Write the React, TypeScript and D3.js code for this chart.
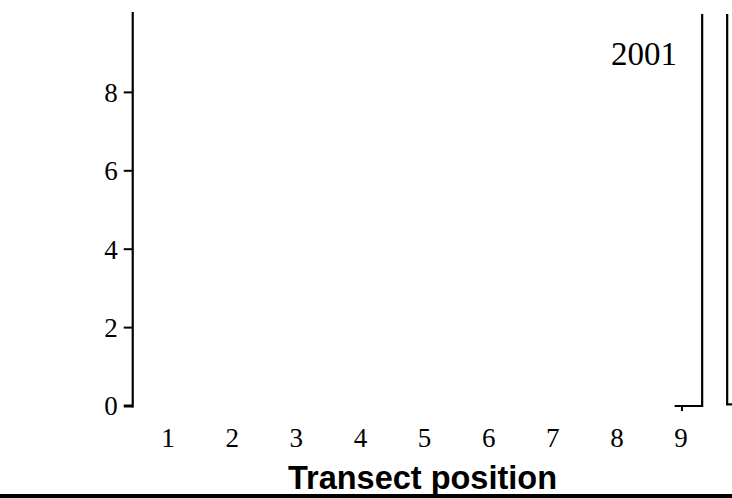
import React from "react";
import * as d3 from "d3";

const yTicks = [0, 2, 4, 6, 8];
const xTicks = [1, 2, 3, 4, 5, 6, 7, 8, 9];
const yearLabel = "2001";
const xTitle = "Transect position";
// step outline of the current panel (transect position, value)
const panelX = [8.9, 9.33, 9.33];
const panelY = [0, 0, 10];
// start of the adjacent panel
const nextX = [9.72, 9.72, 9.9];
const nextY = [10, 0.04, 0.04];
const markedTick = [9];

const W = 732;
const H = 498;

export default function App() {
  const x = d3.scaleLinear().domain([1, 9]).range([168, 681]);
  const y = d3.scaleLinear().domain([0, 10]).range([406, 14]);
  const axisX = x(0.45);
  const mk = (xs: number[], ys: number[]) =>
    d3
      .line<number>()
      .x((d) => x(d))
      .y((_, i) => y(ys[i]))(xs) as string;
  const serif = "'Liberation Serif', 'Times New Roman', serif";
  return (
    <svg
      width={W}
      height={H}
      style={{ position: "absolute", left: 0, top: 0, background: "#fff" }}
    >
      <rect x={0} y={0} width={W} height={H} fill="#fff" />
      <line x1={axisX} x2={axisX} y1={y(10.05)} y2={y(0) + 1.5} stroke="#000" strokeWidth={2.2} />
      {yTicks.map((t) => (
        <g key={t}>
          <line x1={axisX - 9} x2={axisX} y1={y(t)} y2={y(t)} stroke="#000" strokeWidth={t === 0 ? 3 : 2} />
          <text x={axisX - 15} y={y(t)} dy="0.35em" textAnchor="end" fontFamily={serif} fontSize={27}>
            {t}
          </text>
        </g>
      ))}
      {xTicks.map((t) => (
        <text key={t} x={x(t)} y={447} textAnchor="middle" fontFamily={serif} fontSize={27}>
          {t}
        </text>
      ))}
      {markedTick.map((t) => (
        <line key={t} x1={x(t) + 1} x2={x(t) + 1} y1={y(0)} y2={y(0) + 5} stroke="#000" strokeWidth={2} />
      ))}
      <path d={mk(panelX, panelY)} fill="none" stroke="#000" strokeWidth={2.2} />
      <path d={mk(nextX, nextY)} fill="none" stroke="#000" strokeWidth={2.2} />
      <text x={677} y={65} textAnchor="end" fontFamily={serif} fontSize={33}>
        {yearLabel}
      </text>
      <text
        x={422.5}
        y={489}
        textAnchor="middle"
        fontFamily="'Liberation Sans', Arial, sans-serif"
        fontWeight="bold"
        fontSize={32.5}
      >
        {xTitle}
      </text>
      <rect x={0} y={494} width={W} height={4} fill="#000" />
    </svg>
  );
}
